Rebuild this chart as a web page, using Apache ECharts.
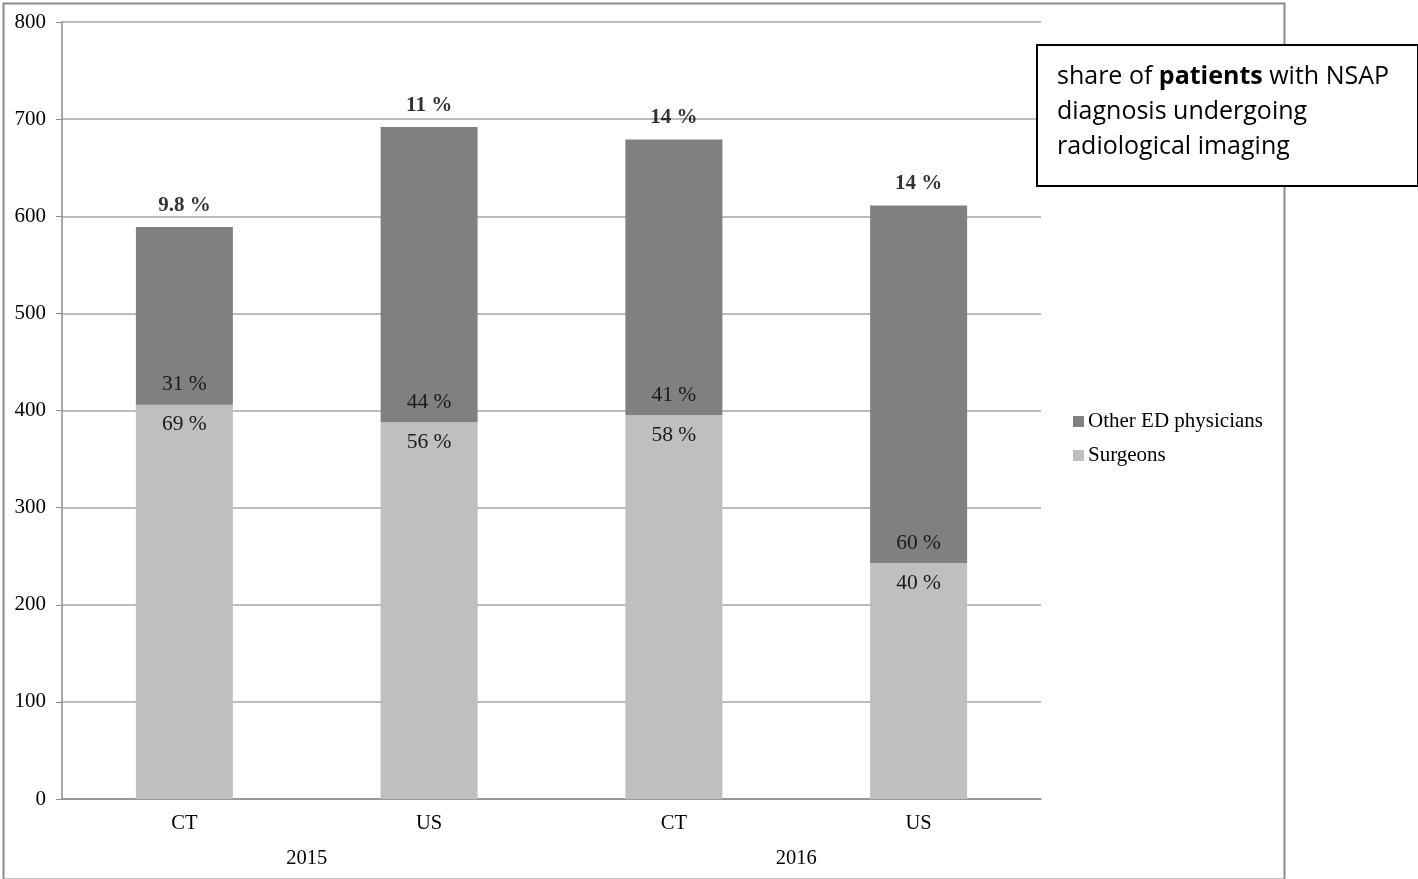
<!DOCTYPE html>
<html>
<head>
<meta charset="utf-8">
<script src="https://cdn.jsdelivr.net/npm/echarts@6/dist/echarts.min.js"></script>
<style>
  html, body { margin: 0; padding: 0; background: #fff; }
  #chart { width: 1418px; height: 879px; }
</style>
</head>
<body>
<div id="chart"></div>
<script>
// modality per bar, and the year groups under them
const modalities = ['CT', 'US', 'CT', 'US'];
const years = ['2015', '2016'];
// patient counts
const surgeons = [406, 388, 395, 243];
const otherED = [183, 304, 284, 368];
// labels printed on the bars
const surgeonPct = ['69 %', '56 %', '58 %', '40 %'];
const otherPct = ['31 %', '44 %', '41 %', '60 %'];
const sharePct = ['9.8 %', '11 %', '14 %', '14 %'];

const totals = surgeons.map((v, i) => v + otherED[i]);
const serif = 'Liberation Serif';

let myChart = echarts.init(document.getElementById('chart'));
let option = {
  animation: false,
  textStyle: { fontFamily: serif, color: '#000' },
  grid: { left: 62, top: 22, right: 377, bottom: 80 },
  legend: {
    orient: 'vertical',
    left: 1068,
    top: 406,
    itemWidth: 11,
    itemHeight: 11,
    itemGap: 13,
    icon: 'rect',
    data: ['Other ED physicians', 'Surgeons'],
    textStyle: { fontFamily: serif, fontSize: 21, color: '#000', padding: [0, 0, 0, -1] }
  },
  xAxis: [
    {
      type: 'category',
      data: modalities,
      axisLine: { lineStyle: { color: '#8c8c8c', width: 1.5 } },
      axisTick: { show: false },
      axisLabel: { fontFamily: serif, fontSize: 20.5, color: '#000', margin: 14 }
    },
    {
      type: 'category',
      data: years,
      position: 'bottom',
      offset: 46,
      axisLine: { show: false },
      axisTick: { show: false },
      axisLabel: { fontFamily: serif, fontSize: 20.5, color: '#000', margin: 3 }
    }
  ],
  yAxis: {
    type: 'value',
    min: 0,
    max: 800,
    interval: 100,
    axisLine: { show: true, lineStyle: { color: '#8c8c8c', width: 1.5 } },
    axisTick: { show: true, length: 6, lineStyle: { color: '#8c8c8c' } },
    axisLabel: { fontFamily: serif, fontSize: 21, color: '#000', margin: 16 },
    splitLine: { lineStyle: { color: '#a6a6a6', width: 1.5 } }
  },
  series: [
    {
      name: 'Surgeons',
      type: 'bar',
      stack: 'all',
      barWidth: 97,
      data: surgeons,
      itemStyle: { color: '#bfbfbf' },
      label: {
        show: true,
        position: 'insideTop',
        distance: 9,
        fontFamily: serif,
        fontSize: 21.5,
        color: '#1a1a1a',
        formatter: p => surgeonPct[p.dataIndex]
      }
    },
    {
      name: 'Other ED physicians',
      type: 'bar',
      stack: 'all',
      data: otherED,
      itemStyle: { color: '#808080' },
      label: {
        show: true,
        position: 'insideBottom',
        distance: 9,
        fontFamily: serif,
        fontSize: 21.5,
        color: '#1a1a1a',
        formatter: p => otherPct[p.dataIndex]
      }
    },
    {
      name: 'share',
      type: 'scatter',
      data: totals,
      symbolSize: 0,
      silent: true,
      label: {
        show: true,
        position: 'top',
        distance: 11,
        fontFamily: serif,
        fontSize: 21,
        fontWeight: 'bold',
        color: '#000',
        formatter: p => sharePct[p.dataIndex]
      }
    }
  ],
  graphic: [
    {
      type: 'rect',
      left: 1,
      top: 1,
      shape: { width: 1281, height: 876 },
      style: { fill: null, stroke: '#8c8c8c', lineWidth: 2 },
      z: 0
    },
    {
      type: 'rect',
      left: 1036,
      top: 44,
      shape: { width: 381, height: 141 },
      style: { fill: '#fff', stroke: '#000', lineWidth: 2 },
      z: 10
    },
    {
      type: 'text',
      left: 1057,
      top: 59,
      z: 11,
      style: {
        text: 'share of {b|patients} with NSAP\ndiagnosis undergoing\nradiological imaging',
        fontFamily: 'Open Sans',
        fontSize: 25,
        lineHeight: 35,
        fill: '#000',
        rich: {
          b: { fontFamily: 'Open Sans', fontSize: 25, fontWeight: 'bold', lineHeight: 35 }
        }
      }
    }
  ]
};
myChart.setOption(option);
</script>
</body>
</html>
